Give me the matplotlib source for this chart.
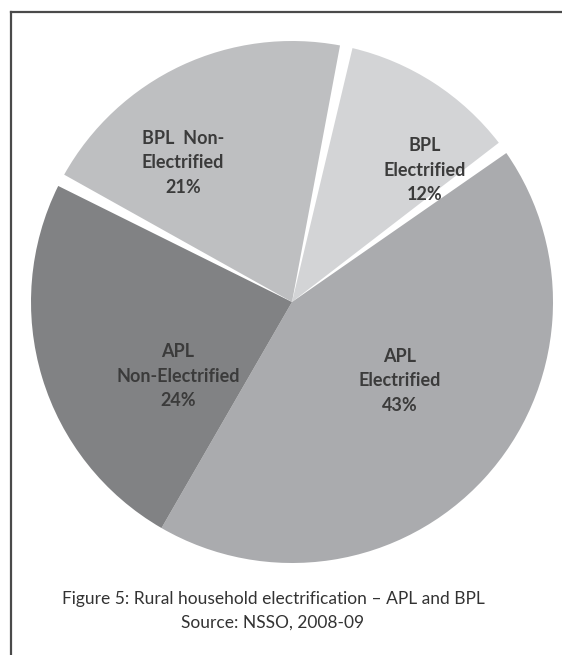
import matplotlib
matplotlib.use('Agg')
import matplotlib.pyplot as plt
from matplotlib.lines import Line2D

# shares of rural households, NSSO 2008-09 (clockwise from the top)
categories = ['BPL\nElectrified', 'APL\nElectrified', 'APL\nNon-Electrified', 'BPL  Non-\nElectrified']
shares = [12, 43, 24, 21]
colors = ['#d3d4d6', '#aaabae', '#818284', '#bebfc1']
# the two BPL slices are set apart from their neighbours
separated = [True, False, False, True]

# label centres, in figure pixels from the top-left corner
label_xy = [(425, 170), (400, 381), (178, 376), (183, 163)]

caption = 'Figure 5: Rural household electrification \u2013 APL and BPL'
source = 'Source: NSSO, 2008-09'

W, H = 562, 655


def main():
  fig = plt.figure(figsize=(W / 100, H / 100), dpi=100)
  ax = fig.add_axes([0, 0, 1, 1])

  wedges, _ = ax.pie(shares, colors=colors, startangle=78, counterclock=False,
                     center=(292, H - 302), radius=261,
                     wedgeprops=dict(linewidth=0))

  # white gap (degrees) on each edge of a separated slice; shared
  # between two separated neighbours
  gap = 2.8
  n = len(wedges)
  for i, w in enumerate(wedges):
    if not separated[i]:
      continue
    # clockwise order: the next slice sits at theta1, the previous at theta2
    nxt = separated[(i + 1) % n]
    prv = separated[(i - 1) % n]
    w.set_theta1(w.theta1 + (gap / 2 if nxt else gap))
    w.set_theta2(w.theta2 - (gap / 2 if prv else gap))

  for cat, val, (x, y) in zip(categories, shares, label_xy):
    ax.text(x, H - y, '%s\n%d%%' % (cat, val), ha='center', va='center',
            family='Lato', weight='bold', fontsize=13, color='#3b3b3b',
            linespacing=1.55)

  ax.text(W / 2 - 8, H - 599, caption, ha='center', va='center',
          family='Lato', fontsize=12.5, color='#333333')
  ax.text(W / 2 - 8, H - 623, source, ha='center', va='center',
          family='Lato', fontsize=12.5, color='#333333')

  # box round the figure, open to the right and below
  ax.add_line(Line2D([11, W], [H - 12, H - 12], color='#4a4a4a', lw=1.6))
  ax.add_line(Line2D([11, 11], [H - 12, 0], color='#4a4a4a', lw=1.6))

  ax.set_xlim(0, W)
  ax.set_ylim(0, H)
  ax.set_aspect('equal')
  ax.axis('off')

  fig.savefig('out.png', dpi=100, facecolor='white')

if __name__ == '__main__':
  main()
